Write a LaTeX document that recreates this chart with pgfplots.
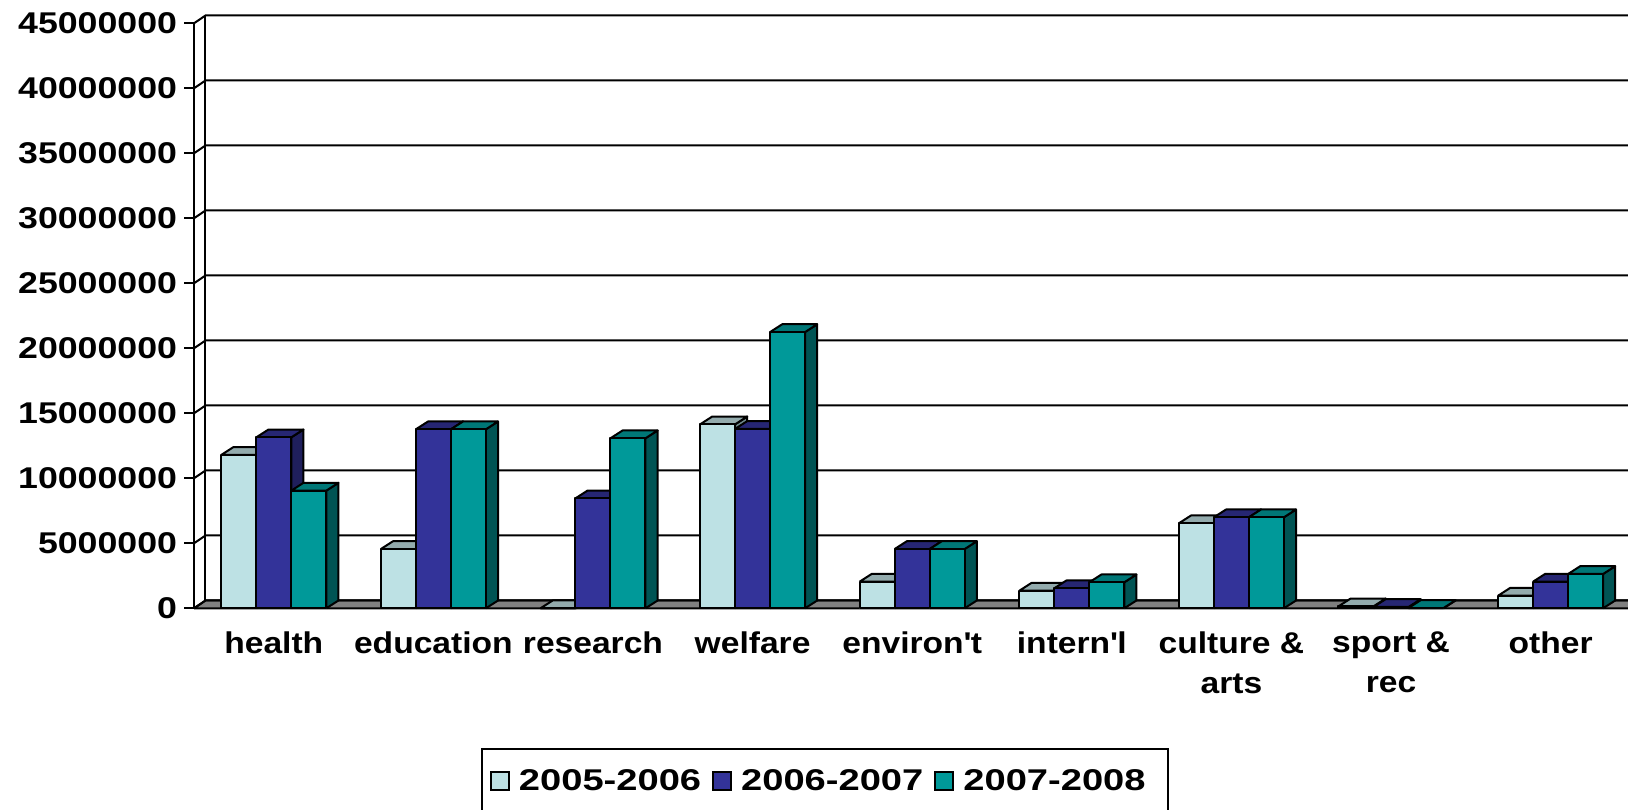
\documentclass[border=0pt]{standalone}
\usepackage{fontspec}
\setmainfont{Liberation Sans}
\newfontfamily\catfont[FakeStretch=1.12]{Liberation Sans}
\newfontfamily\numfont[FakeStretch=1.19]{Liberation Sans}
\newfontfamily\legfont[FakeStretch=1.27]{Liberation Sans}
\usepackage{pgfplots}
\usepackage{pgfplotstable}
\pgfplotsset{compat=1.18}

\definecolor{lightF}{HTML}{BDE1E4}
\definecolor{lightT}{HTML}{93ABAD}
\definecolor{lightS}{HTML}{6F8A8C}
\definecolor{blueF}{HTML}{333399}
\definecolor{blueT}{HTML}{262673}
\definecolor{blueS}{HTML}{1F1F5C}
\definecolor{tealF}{HTML}{009999}
\definecolor{tealT}{HTML}{007777}
\definecolor{tealS}{HTML}{005454}
\definecolor{floorG}{HTML}{808080}

\pgfplotstableread{
cat a b c
0 11800000 13150000 9050000
1 4560000 13770000 13770000
2 0 8460000 13080000
3 14150000 13800000 21250000
4 2050000 4560000 4560000
5 1350000 1540000 2000000
6 6540000 7000000 7000000
7 150000 100000 20000
8 970000 2050000 2640000
}\datatable

\newcommand\fpuset[2]{\pgfkeys{/pgf/fpu=true,/pgf/fpu/output format=fixed}\pgfmathparse{#2}\xdef#1{\pgfmathresult}\pgfkeys{/pgf/fpu=false}}

\newcommand\drawbar[6]{%
  \pgfplotstablegetelem{#1}{#2}\of\datatable
  \edef\barv{\pgfplotsretval}%
  \fpuset\bart{\barv+600000}%
  \pgfmathsetmacro\xl{#1+(#3)*0.2193-0.10965}%
  \pgfmathsetmacro\xr{\xl+0.2193}%
  \pgfmathsetmacro\xlb{\xl+0.076}%
  \pgfmathsetmacro\xrb{\xr+0.076}%
  \edef\tmp{%
    \noexpand\addplot[forget plot, fill=#6, draw=black, line width=1pt, line join=round] coordinates {(\xr,0) (\xrb,600000) (\xrb,\bart) (\xr,\barv) (\xr,0)};
    \noexpand\addplot[forget plot, fill=#5, draw=black, line width=1pt, line join=round] coordinates {(\xl,\barv) (\xr,\barv) (\xrb,\bart) (\xlb,\bart) (\xl,\barv)};
    \noexpand\addplot[forget plot, fill=#4, draw=black, line width=1pt, line join=round] coordinates {(\xl,0) (\xr,0) (\xr,\barv) (\xl,\barv) (\xl,0)};
  }\tmp
}

\begin{document}
\begin{tikzpicture}[x=1pt,y=1pt]
\useasboundingbox (0,0) rectangle (814,404.5);
\begin{axis}[
  at={(97pt,100.35pt)}, anchor=south west,
  scale only axis, width=718.2pt, height=296.4pt,
  xmin=-0.5, xmax=8.5, ymin=0, ymax=45600000,
  clip=false,
  axis line style={draw=none},
  xtick={0,...,8},
  xticklabels={health,education,research,welfare,environ\textquotesingle t,intern\textquotesingle l,{culture \&\\arts},{sport \&\\rec},other},
  xtick style={draw=none},
  ytick={0,5000000,10000000,15000000,20000000,25000000,30000000,35000000,40000000,45000000},
  yticklabels={0,5000000,10000000,15000000,20000000,25000000,30000000,35000000,40000000,45000000},
  scaled y ticks=false,
  ytick pos=left,
  ytick style={black, line width=1pt},
  tick align=outside, major tick length=5pt,
  yticklabel style={font=\numfont\bfseries\fontsize{15}{18}\selectfont, inner sep=3.3pt},
  xticklabel style={font=\catfont\bfseries\fontsize{15}{20}\selectfont, align=center, yshift=-3.3pt},
  legend image code/.code={\draw[#1] (0pt,-4.5pt) rectangle (9pt,4.5pt);},
  legend style={at={(0.1998,-0.236)}, anchor=north west, legend columns=3,
    draw=black, line width=1pt,
    font=\legfont\bfseries\fontsize{15}{18}\selectfont,
    inner xsep=4pt, inner ysep=8pt,
    /tikz/every odd column/.append style={column sep=2.5pt},
    /tikz/every even column/.append style={column sep=3.5pt}},
  legend cell align=left,
]
% floor
\addplot[forget plot, fill=floorG, draw=black, line width=1pt] coordinates {(-0.5,0) (8.6,0) (8.672,600000) (-0.428,600000) (-0.5,0)};
% gridlines and left wall
\pgfplotsinvokeforeach{0,...,9}{%
  \fpuset\ya{#1*5000000}%
  \fpuset\yb{#1*5000000+600000}%
  \edef\tmp{\noexpand\addplot[forget plot, black, line width=1pt] coordinates {(-0.5,\ya) (-0.428,\yb) (8.6,\yb)};}\tmp
}
\addplot[forget plot, black, line width=1pt] coordinates {(-0.5,0) (-0.5,45000000)};
\addplot[forget plot, black, line width=1pt] coordinates {(-0.428,600000) (-0.428,45600000)};
% bars
\pgfplotsinvokeforeach{0,...,8}{%
  \drawbar{#1}{a}{-1}{lightF}{lightT}{lightS}%
  \drawbar{#1}{b}{0}{blueF}{blueT}{blueS}%
  \drawbar{#1}{c}{1}{tealF}{tealT}{tealS}%
}
\addlegendimage{fill=lightF, draw=black, line width=1pt}
\addlegendentry{2005-2006}
\addlegendimage{fill=blueF, draw=black, line width=1pt}
\addlegendentry{2006-2007}
\addlegendimage{fill=tealF, draw=black, line width=1pt}
\addlegendentry{2007-2008\kern5pt\null}
\end{axis}
\end{tikzpicture}
\end{document}
